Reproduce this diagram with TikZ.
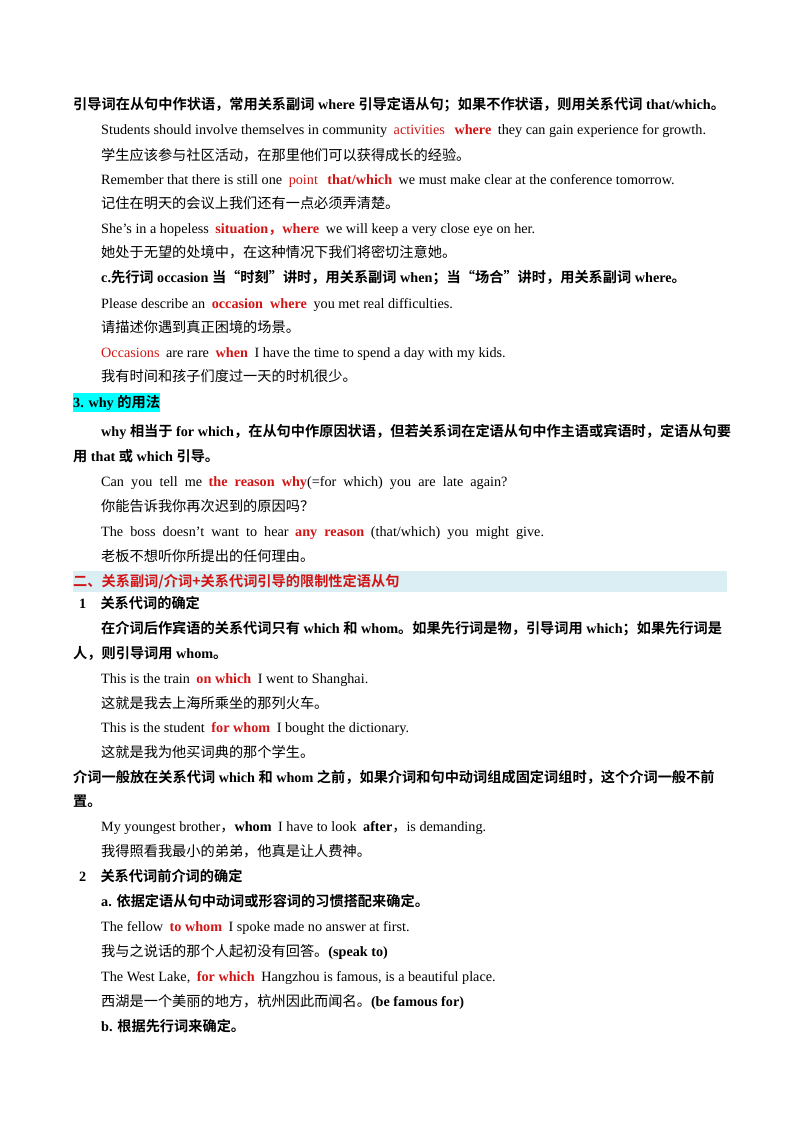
\documentclass[tikz,border=0pt]{standalone}
\usepackage{fontspec}
\setmainfont{Liberation Serif}
\newfontfamily\cjk{Noto Sans CJK SC}[BoldFont={Noto Sans CJK SC Bold}]
\newcommand{\C}[1]{{\cjk #1}}
\definecolor{myred}{RGB}{210,20,20}
\newcommand{\R}[1]{\textcolor{myred}{#1}}
\newcommand{\RR}[1]{\hspace{3pt}\textcolor{myred}{#1}\hspace{3pt}}
\definecolor{band}{RGB}{218,238,243}
\definecolor{hl}{RGB}{0,255,255}
\begin{document}
\begin{tikzpicture}[x=1pt,y=-1pt,
 t/.style={anchor=base west,inner sep=0pt,font=\fontsize{14.2}{16}\selectfont},
 h/.style={t,font=\fontsize{14.2}{16}\selectfont\bfseries}]
\useasboundingbox (0,0) rectangle (800,1132);
\fill[band] (73,571) rectangle (727,592);
\fill[hl] (73,393) rectangle (160,412);
\def\b{5}
\node[h] (l1) at (73,104+\b) {\C{引导词在从句中作状语，常用关系副词} where \C{引导定语从句；如果不作状语，则用关系代词} that/which\C{。}};
\node[t] (l2) at (101,129+\b) {Students should involve themselves in community \RR{activities} \RR{\textbf{where}} they can gain experience for growth.};
\node[t] (l3) at (101,155+\b) {\C{学生应该参与社区活动，在那里他们可以获得成长的经验。}};
\node[t] (l4) at (101,179+\b) {Remember that there is still one \RR{point} \RR{\textbf{that/which}} we must make clear at the conference tomorrow.};
\node[t] (l5) at (101,203+\b) {\C{记住在明天的会议上我们还有一点必须弄清楚。}};
\node[t] (l6) at (101,228+\b) {She's in a hopeless \RR{\textbf{situation\C{，}where}} we will keep a very close eye on her.};
\node[t] (l7) at (101,252+\b) {\C{她处于无望的处境中，在这种情况下我们将密切注意她。}};
\node[h] (l8) at (101,277+\b) {c.\C{先行词} occasion \C{当“时刻”讲时，用关系副词} when\C{；当“场合”讲时，用关系副词} where\C{。}};
\node[t] (l9) at (101,303+\b) {Please describe an \RR{\textbf{occasion\ \ where}} you met real difficulties.};
\node[t] (l10) at (101,327+\b) {\C{请描述你遇到真正困境的场景。}};
\node[t] (l11) at (101,352+\b) {\R{Occasions}\hspace{3pt} are rare \RR{\textbf{when}} I have the time to spend a day with my kids.};
\node[t] (l12) at (101,376+\b) {\C{我有时间和孩子们度过一天的时机很少。}};
\node[h] (l13) at (73,402+\b) {3. why \C{的用法}};
\node[h] (l14) at (101,431+\b) {why \C{相当于} for which\C{，在从句中作原因状语，但若关系词在定语从句中作主语或宾语时，定语从句要}};
\node[h] (l15) at (73,456+\b) {\C{用} that \C{或} which \C{引导。}};
\node[t] (l16) at (101,481+\b) {Can\ \ you\ \ tell\ \ me \RR{\textbf{the\ \ reason\ \ why}}\hspace{-3pt}(=for\ \ which)\ \ you\ \ are\ \ late\ \ again?};
\node[t] (l17) at (101,506+\b) {\C{你能告诉我你再次迟到的原因吗？}};
\node[t] (l18) at (101,531+\b) {The\ \ boss\ \ doesn't\ \ want\ \ to\ \ hear \RR{\textbf{any\ \ reason}} (that/which)\ \ you\ \ might\ \ give.};
\node[t] (l19) at (101,556+\b) {\C{老板不想听你所提出的任何理由。}};
\node[h] (l20) at (73,581+\b) {\R{\C{二、关系副词/介词+关系代词引导的限制性定语从句}}};
\node[h] (l21) at (79,603+\b) {1\quad\C{关系代词的确定}};
\node[h] (l22) at (101,628+\b) {\C{在介词后作宾语的关系代词只有} which \C{和} whom\C{。如果先行词是物，引导词用} which\C{；如果先行词是}};
\node[h] (l23) at (73,653+\b) {\C{人，则引导词用} whom\C{。}};
\node[t] (l24) at (101,678+\b) {This is the train \RR{\textbf{on which}} I went to Shanghai.};
\node[t] (l25) at (101,703+\b) {\C{这就是我去上海所乘坐的那列火车。}};
\node[t] (l26) at (101,727+\b) {This is the student \RR{\textbf{for whom}} I bought the dictionary.};
\node[t] (l27) at (101,752+\b) {\C{这就是我为他买词典的那个学生。}};
\node[h] (l28) at (73,777+\b) {\C{介词一般放在关系代词} which \C{和} whom \C{之前，如果介词和句中动词组成固定词组时，这个介词一般不前}};
\node[h] (l29) at (73,801+\b) {\C{置。}};
\node[t] (l30) at (101,826+\b) {My youngest brother\C{，}\textbf{whom}\hspace{3pt} I have to look\hspace{3pt} \textbf{after}\C{，}is demanding.};
\node[t] (l31) at (101,851+\b) {\C{我得照看我最小的弟弟，他真是让人费神。}};
\node[h] (l32) at (79,876+\b) {2\quad\C{关系代词前介词的确定}};
\node[h] (l33) at (101,901+\b) {a. \C{依据定语从句中动词或形容词的习惯搭配来确定。}};
\node[t] (l34) at (101,926+\b) {The fellow \RR{\textbf{to whom}} I spoke made no answer at first.};
\node[t] (l35) at (101,951+\b) {\C{我与之说话的那个人起初没有回答。}\textbf{(speak to)}};
\node[t] (l36) at (101,976+\b) {The West Lake, \RR{\textbf{for which}} Hangzhou is famous, is a beautiful place.};
\node[t] (l37) at (101,1001+\b) {\C{西湖是一个美丽的地方，杭州因此而闻名。}\textbf{(be famous for)}};
\node[h] (l38) at (101,1026+\b) {b. \C{根据先行词来确定。}};
\end{tikzpicture}
\end{document}
